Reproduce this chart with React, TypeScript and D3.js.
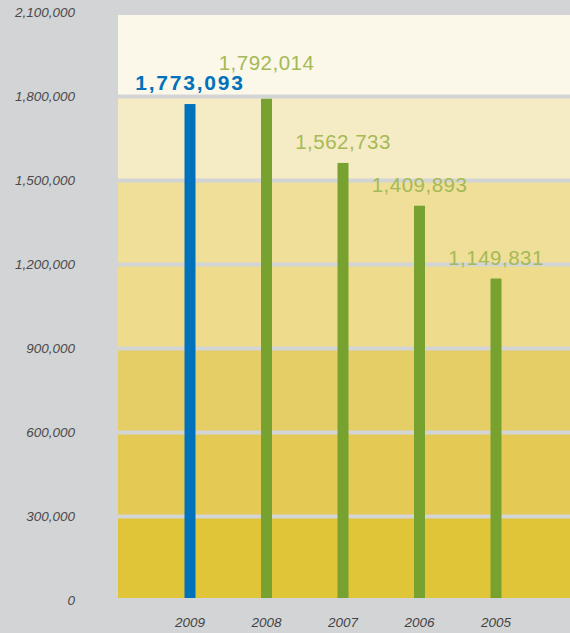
import React, { useRef, useEffect } from "react";
import * as d3 from "d3";

const years = ["2009", "2008", "2007", "2006", "2005"];
const visitors = [1773093, 1792014, 1562733, 1409893, 1149831];
const yTicks = [0, 300000, 600000, 900000, 1200000, 1500000, 1800000, 2100000];
const bandColors = ["#e0c539", "#e4ca55", "#e6ce66", "#eedb8c", "#f0df98", "#f5ecc5", "#fbf7e9"];

export default function App() {
  const svgRef = useRef<SVGSVGElement | null>(null);

  useEffect(() => {
    document.body.style.margin = "0";
    const width = 570;
    const height = 633;
    const plotLeft = 118;
    const plotTop = 15;
    const plotBottom = 598;

    const svg = d3.select(svgRef.current);
    svg.selectAll("*").remove();
    svg.attr("width", width).attr("height", height);

    svg.append("rect").attr("width", width).attr("height", height).attr("fill", "#d3d4d6");

    const y = d3.scaleLinear().domain([0, 2100000]).range([600.5, 12.5]);
    const x = d3.scalePoint<string>().domain(years).range([190, 496]);

    // background bands between gridlines
    const bands = svg.append("g");
    yTicks.slice(0, -1).forEach((t, i) => {
      const top = Math.max(plotTop, y(yTicks[i + 1]) + 2);
      const bottom = Math.min(plotBottom, y(t) - 2);
      bands
        .append("rect")
        .attr("x", plotLeft)
        .attr("y", top)
        .attr("width", width - plotLeft)
        .attr("height", bottom - top)
        .attr("fill", bandColors[i]);
    });

    // y tick labels
    svg
      .append("g")
      .selectAll("text")
      .data(yTicks)
      .enter()
      .append("text")
      .attr("x", 75)
      .attr("y", d => y(d))
      .attr("dy", "0.36em")
      .attr("text-anchor", "end")
      .attr("font-family", "'Liberation Sans', Arial, sans-serif")
      .attr("font-style", "italic")
      .attr("font-size", "13.5px")
      .attr("fill", "#4a4a4a")
      .text(d => d3.format(",")(d));

    // bars
    const barW = 11;
    svg
      .append("g")
      .selectAll("rect")
      .data(visitors)
      .enter()
      .append("rect")
      .attr("x", (d, i) => (x(years[i]) as number) - barW / 2)
      .attr("y", d => y(d))
      .attr("width", barW)
      .attr("height", d => plotBottom - y(d))
      .attr("fill", (d, i) => (i === 0 ? "#0072bc" : "#78a22f"));

    // value labels, lifted when they would collide with the previous one
    const baselines: number[] = [];
    visitors.forEach((v, i) => {
      let b = y(v) - 14;
      if (i > 0 && Math.abs(b - baselines[i - 1]) < 20) b = baselines[i - 1] - 20;
      baselines.push(b);
    });

    svg
      .append("g")
      .selectAll("text")
      .data(visitors)
      .enter()
      .append("text")
      .attr("x", (d, i) => x(years[i]) as number)
      .attr("y", (d, i) => baselines[i])
      .attr("text-anchor", "middle")
      .attr("font-family", "'Liberation Sans', Arial, sans-serif")
      .attr("font-size", (d, i) => (i === 0 ? "21px" : "20.5px"))
      .attr("font-weight", (d, i) => (i === 0 ? "bold" : "normal"))
      .attr("letter-spacing", (d, i) => (i === 0 ? "1.8px" : "0.5px"))
      .attr("fill", (d, i) => (i === 0 ? "#0072bc" : "#a5ba55"))
      .text(d => d3.format(",")(d));

    // year labels
    svg
      .append("g")
      .selectAll("text")
      .data(years)
      .enter()
      .append("text")
      .attr("x", d => x(d) as number)
      .attr("y", 627)
      .attr("text-anchor", "middle")
      .attr("font-family", "'Liberation Sans', Arial, sans-serif")
      .attr("font-style", "italic")
      .attr("font-size", "13.5px")
      .attr("fill", "#444")
      .text(d => d);
  }, []);

  return <svg ref={svgRef} style={{ display: "block" }}></svg>;
}
